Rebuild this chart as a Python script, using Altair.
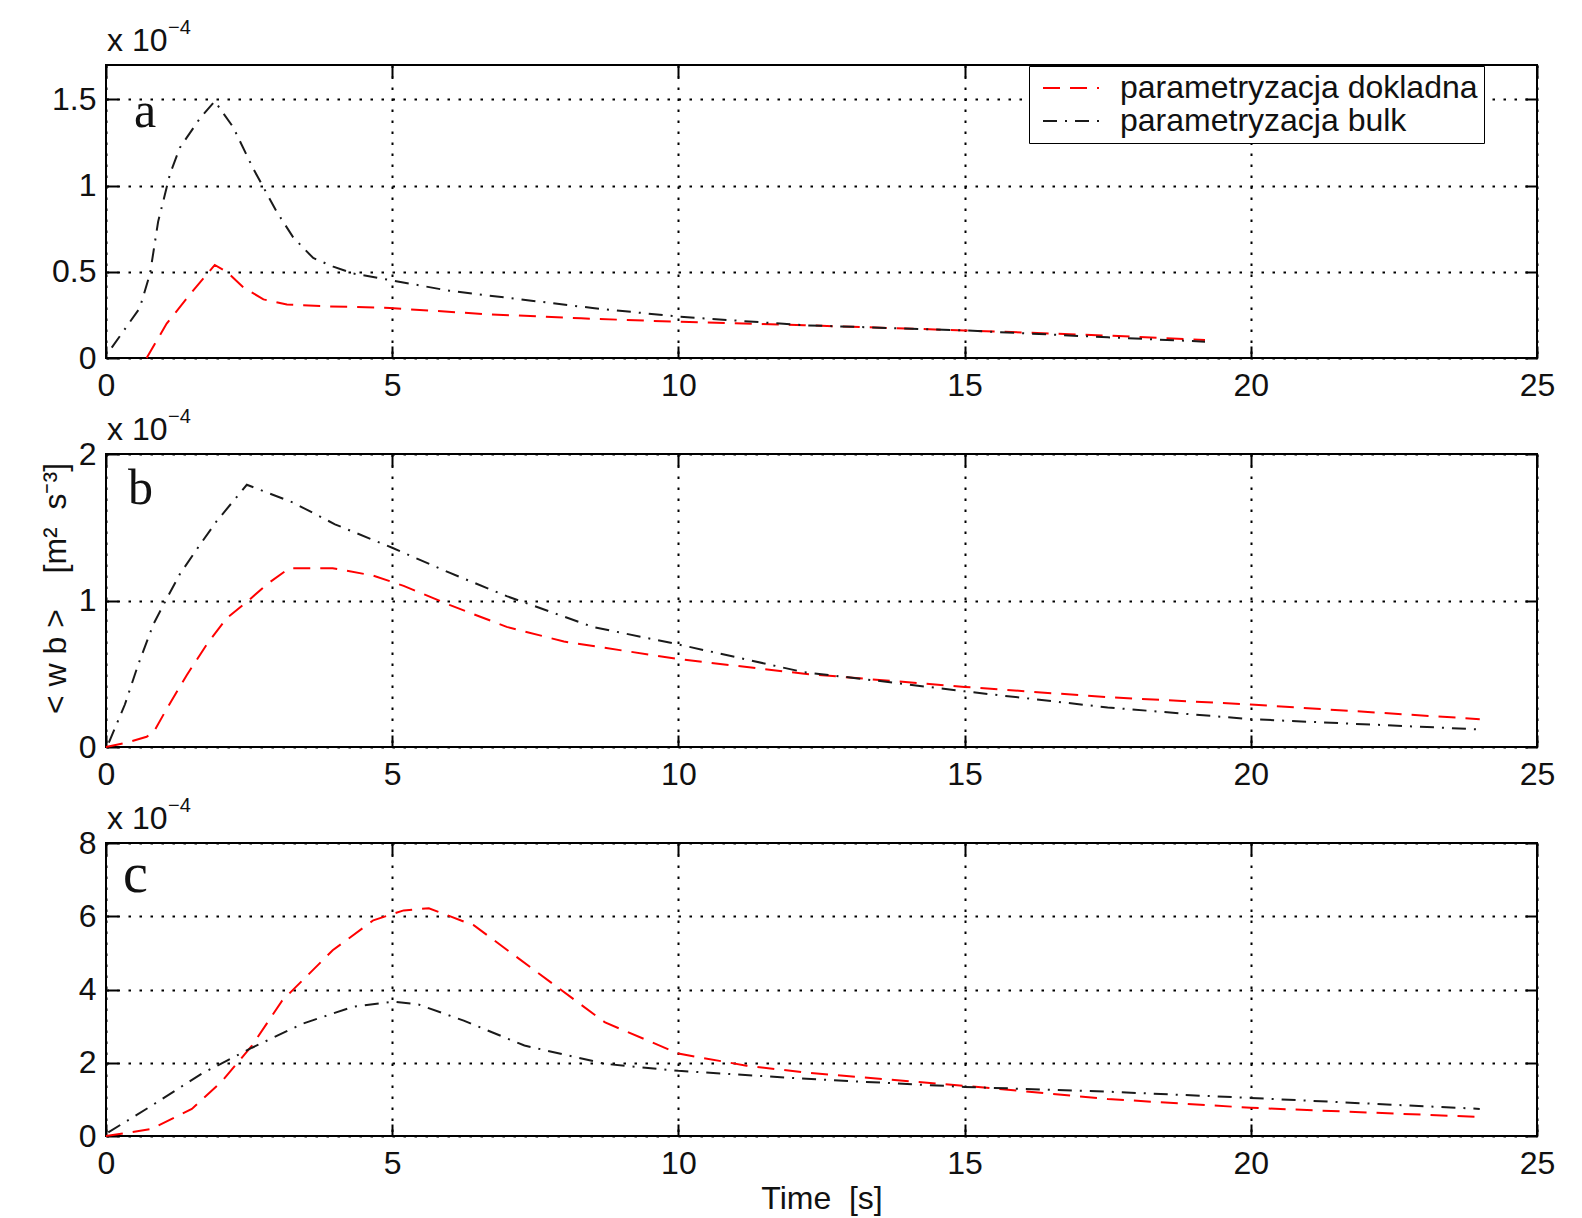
import altair as alt
import pandas as pd

# ---------------- data (values in units of 1e-4 m^2 s^-3) ----------------
series_names = ["parametryzacja dokladna", "parametryzacja bulk"]
panel_letters = ["a", "b", "c"]
x_ticks = [0, 5, 10, 15, 20, 25]
y_ticks_a = [0, 0.5, 1, 1.5]
y_ticks_b = [0, 1, 2]
y_ticks_c = [0, 2, 4, 6, 8]
y_max = [1.7, 2, 8]
exp_base = "x 10"
exp_power = "\u22124"
x_title = "Time\u00a0\u00a0[s]"
y_title = "<\u00a0w\u00a0b\u00a0>\u00a0\u00a0\u00a0\u00a0[m\u00b2\u00a0\u00a0s\u207b\u00b3]"

# panel a
t_a_dokl = [0.71, 1.06, 1.47, 1.90, 2.11, 2.40, 2.75, 3.16, 3.86, 4.96, 6.6, 8.3, 10.0, 12.2, 15.0, 17.5, 19.2]
v_a_dokl = [0.0, 0.20, 0.37, 0.54, 0.50, 0.41, 0.34, 0.31, 0.30, 0.29, 0.255, 0.23, 0.21, 0.19, 0.16, 0.13, 0.105]
t_a_bulk = [0.1, 0.59, 0.77, 0.91, 1.12, 1.29, 1.64, 1.90, 2.22, 2.57, 2.98, 3.27, 3.62, 3.97, 4.32, 5.0, 6.0, 7.0, 8.5, 10.0, 12.2, 15.0, 17.5, 19.2]
v_a_bulk = [0.06, 0.29, 0.49, 0.79, 1.07, 1.22, 1.39, 1.49, 1.34, 1.10, 0.85, 0.70, 0.58, 0.53, 0.49, 0.45, 0.39, 0.35, 0.29, 0.24, 0.19, 0.16, 0.12, 0.095]

# panel b
t_b_dokl = [0.0, 0.36, 0.71, 0.83, 1.06, 1.41, 1.76, 2.11, 2.46, 2.81, 3.2, 3.96, 4.67, 5.2, 6.0, 7.0, 8.0, 10.0, 12.2, 15.0, 17.5, 20.0, 24.0]
v_b_dokl = [0.0, 0.03, 0.07, 0.10, 0.26, 0.49, 0.70, 0.88, 0.99, 1.11, 1.22, 1.22, 1.17, 1.10, 0.97, 0.82, 0.72, 0.60, 0.50, 0.41, 0.34, 0.29, 0.19]
t_b_bulk = [0.05, 0.33, 0.56, 0.83, 1.03, 1.29, 1.64, 1.93, 2.46, 3.26, 4.0, 5.0, 6.0, 7.0, 8.5, 10.0, 12.2, 13.1, 15.0, 17.5, 20.0, 24.0]
v_b_bulk = [0.03, 0.29, 0.56, 0.84, 0.99, 1.18, 1.38, 1.54, 1.79, 1.67, 1.52, 1.36, 1.19, 1.03, 0.82, 0.70, 0.51, 0.47, 0.38, 0.27, 0.19, 0.12]

# panel c
t_c_dokl = [0.0, 0.79, 1.5, 2.03, 2.55, 3.08, 3.96, 4.67, 5.2, 5.64, 6.43, 7.49, 8.72, 10.0, 11.19, 12.24, 15.0, 17.5, 20.0, 24.0]
v_c_dokl = [0.0, 0.19, 0.74, 1.5, 2.47, 3.7, 5.07, 5.89, 6.16, 6.22, 5.75, 4.52, 3.10, 2.25, 1.92, 1.73, 1.37, 1.01, 0.77, 0.52]
t_c_bulk = [0.04, 0.79, 1.67, 2.55, 3.44, 4.32, 5.02, 5.46, 6.25, 7.31, 8.72, 10.0, 12.24, 15.0, 17.5, 20.0, 24.0]
v_c_bulk = [0.1, 0.82, 1.70, 2.41, 3.07, 3.53, 3.67, 3.59, 3.15, 2.47, 1.97, 1.78, 1.56, 1.34, 1.21, 1.04, 0.74]

FONT = "Liberation Sans"
FS = 32
W, H = 1431, 293
RED = "#ff0000"
BLACK = "#1a1a1a"
DASHES = [[17, 10], [14, 8, 2, 8]]


def make_df(t1, v1, t2, v2):
    rows = [{"t": t, "v": v, "series": series_names[0]} for t, v in zip(t1, v1)]
    rows += [{"t": t, "v": v, "series": series_names[1]} for t, v in zip(t2, v2)]
    return pd.DataFrame(rows)


def panel(df, letter, letter_x, letter_y, letter_size, yticks, ymax,
          show_legend, show_xtitle, show_ytitle):
    xs = alt.Scale(domain=[0, 25], nice=False, zero=False)
    ys = alt.Scale(domain=[0, ymax], nice=False, zero=False)

    if show_legend:
        leg = alt.Legend(title=None, orient="none", legendX=923, legendY=1,
                         fillColor="white", strokeColor="black", padding=6,
                         labelFont=FONT, labelFontSize=FS, labelColor="#111",
                         labelLimit=0, labelExpr="datum.label + '\u00a0\u00a0'",
                         symbolType="M-2,0H2", symbolSize=784, symbolStrokeWidth=2,
                         symbolOffset=20, labelOffset=33, rowPadding=1, zindex=1)
        color = alt.Color("series:N", scale=alt.Scale(domain=series_names, range=[RED, BLACK]), legend=leg)
        dash = alt.StrokeDash("series:N", scale=alt.Scale(domain=series_names, range=DASHES), legend=leg)
    else:
        color = alt.Color("series:N", scale=alt.Scale(domain=series_names, range=[RED, BLACK]), legend=None)
        dash = alt.StrokeDash("series:N", scale=alt.Scale(domain=series_names, range=DASHES), legend=None)

    xaxis_kw = dict(values=x_ticks, format="~g", grid=True, ticks=False, domain=False,
                    labelPadding=12, labelFlush=False)
    if show_xtitle:
        xaxis_kw.update(title=x_title, titlePadding=4)
    else:
        xaxis_kw.update(title=None)
    yaxis_kw = dict(values=yticks, format="~g", grid=True, ticks=False, domain=False,
                    labelPadding=10, labelFlush=False)
    if show_ytitle:
        yaxis_kw.update(title=y_title, titleX=-34, titleY=134, titleAngle=270,
                        titleBaseline="bottom", titleAlign="center")
    else:
        yaxis_kw.update(title=None)

    lines = alt.Chart(df).mark_line(strokeWidth=2).encode(
        x=alt.X("t:Q", scale=xs, axis=alt.Axis(**xaxis_kw)),
        y=alt.Y("v:Q", scale=ys, axis=alt.Axis(**yaxis_kw)),
        color=color,
        strokeDash=dash,
    )

    def tick_axis(orient, vals):
        return alt.Axis(orient=orient, values=vals, grid=False, labels=False, domain=False,
                        ticks=True, tickSize=12, tickWidth=2, tickColor="black",
                        offset=-12, title=None)

    ticks_tr = alt.Chart(df).mark_line(opacity=0).encode(
        x=alt.X("t:Q", scale=xs, axis=tick_axis("top", x_ticks)),
        y=alt.Y("v:Q", scale=ys, axis=tick_axis("right", yticks)),
        detail="series:N",
    )
    ticks_bl = alt.Chart(df).mark_line(opacity=0).encode(
        x=alt.X("t:Q", scale=xs, axis=tick_axis("bottom", x_ticks)),
        y=alt.Y("v:Q", scale=ys, axis=tick_axis("left", yticks)),
        detail="series:N",
    )

    letter_txt = alt.Chart(pd.DataFrame({"label": [letter]})).mark_text(
        font="Liberation Serif", fontSize=letter_size, align="left", baseline="alphabetic", color="#111"
    ).encode(x=alt.value(letter_x), y=alt.value(letter_y), text="label:N")

    base_txt = alt.Chart(pd.DataFrame({"label": [exp_base]})).mark_text(
        font=FONT, fontSize=FS, align="left", baseline="alphabetic", color="#111"
    ).encode(x=alt.value(1), y=alt.value(-14), text="label:N")

    pow_txt = alt.Chart(pd.DataFrame({"label": [exp_power]})).mark_text(
        font=FONT, fontSize=20, align="left", baseline="alphabetic", color="#111"
    ).encode(x=alt.value(62), y=alt.value(-31), text="label:N")

    return alt.layer(lines, ticks_tr, ticks_bl, letter_txt, base_txt, pow_txt).resolve_axis(
        x="independent", y="independent"
    ).properties(width=W, height=H)


df_a = make_df(t_a_dokl, v_a_dokl, t_a_bulk, v_a_bulk)
df_b = make_df(t_b_dokl, v_b_dokl, t_b_bulk, v_b_bulk)
df_c = make_df(t_c_dokl, v_c_dokl, t_c_bulk, v_c_bulk)

pa = panel(df_a, panel_letters[0], 28, 62, 50, y_ticks_a, y_max[0], True, False, False)
pb = panel(df_b, panel_letters[1], 22, 50, 50, y_ticks_b, y_max[1], False, False, True)
pc = panel(df_c, panel_letters[2], 17, 49, 56, y_ticks_c, y_max[2], False, True, False)

chart = alt.vconcat(pa, pb, pc, spacing=96, bounds="flush").resolve_scale(
    color="independent", strokeDash="independent"
).properties(
    padding={"left": 29, "top": 9, "right": 10, "bottom": 5},
    background="white",
).configure_view(
    stroke="black", strokeWidth=2
).configure_axis(
    labelFont=FONT, labelFontSize=FS, labelColor="#111",
    titleFont=FONT, titleFontSize=FS, titleFontWeight="normal", titleColor="#111",
    gridColor="black", gridDash=[2.5, 8.5], gridWidth=2, gridOpacity=1,
)

chart.save("out.html", embed_options={"renderer": "svg", "actions": False})
